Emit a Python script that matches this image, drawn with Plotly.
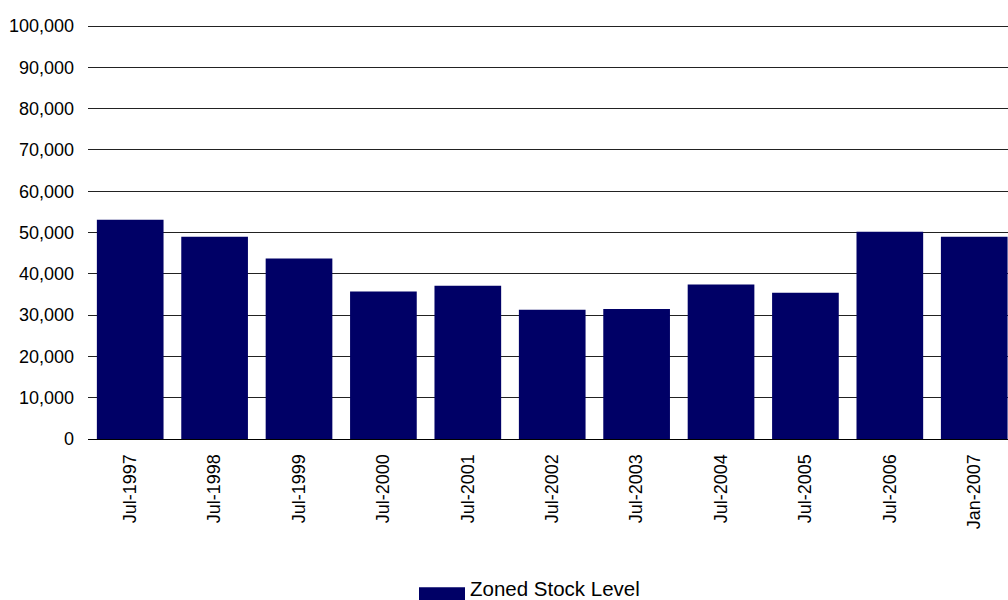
import plotly.graph_objects as go

# Zoned stock level by survey date
periods = ["Jul-1997", "Jul-1998", "Jul-1999", "Jul-2000", "Jul-2001", "Jul-2002",
           "Jul-2003", "Jul-2004", "Jul-2005", "Jul-2006", "Jan-2007"]
stock_level = [53100, 49000, 43700, 35700, 37100, 31300, 31500, 37400, 35400, 50200, 49000]
y_ticks = [0, 10000, 20000, 30000, 40000, 50000, 60000, 70000, 80000, 90000, 100000]
series_name = "Zoned Stock Level"

FONT = "Liberation Sans, Arial, sans-serif"
NAVY = "#000066"

# plot area in pixels (used to place the legend key in paper units)
L, R, T, B = 88, 1008, 26, 439
W, H = R - L, B - T


def px_x(px):
    return (px - L) / W


def px_y(py):
    return (B - py) / H


fig = go.Figure()
fig.add_trace(go.Bar(
    x=list(range(len(periods))),
    y=stock_level,
    name=series_name,
    marker=dict(color=NAVY, line=dict(width=0)),
    width=0.79,
    showlegend=False,
))

# legend key: wide swatch + label
fig.add_shape(
    type="rect", xref="paper", yref="paper",
    x0=px_x(419), x1=px_x(465), y0=px_y(602), y1=px_y(587),
    fillcolor=NAVY, line=dict(width=0),
)
fig.add_annotation(
    xref="paper", yref="paper",
    x=px_x(469), y=px_y(588), xanchor="left", yanchor="middle",
    text=series_name, showarrow=False,
    font=dict(family=FONT, size=20.5, color="#000000"),
    height=20, valign="middle", borderpad=0,
)

fig.update_layout(
    width=1008, height=600,
    paper_bgcolor="white", plot_bgcolor="white",
    margin=dict(l=L, r=1008 - R, t=T - 1, b=600 - B, pad=0),
    font=dict(family=FONT, size=18, color="#000000"),
    showlegend=False,
)

fig.update_xaxes(
    tickmode="array",
    tickvals=list(range(len(periods))),
    ticktext=periods,
    tickangle=-90,
    range=[-0.5, 10.4],
    showgrid=False,
    showline=True, linecolor="#000000", linewidth=1,
    ticks="", ticklabelstandoff=7,
    tickfont=dict(family=FONT, size=18, color="#000000"),
    fixedrange=True,
)

fig.update_yaxes(
    range=[0, 100250],
    tickmode="array",
    tickvals=y_ticks,
    tickformat=",d",
    showgrid=True, gridcolor="#222222", gridwidth=1,
    zeroline=False,
    showline=False,
    ticks="", ticklabelstandoff=13,
    tickfont=dict(family=FONT, size=18, color="#000000"),
    fixedrange=True,
)

fig.write_html("out.html")
